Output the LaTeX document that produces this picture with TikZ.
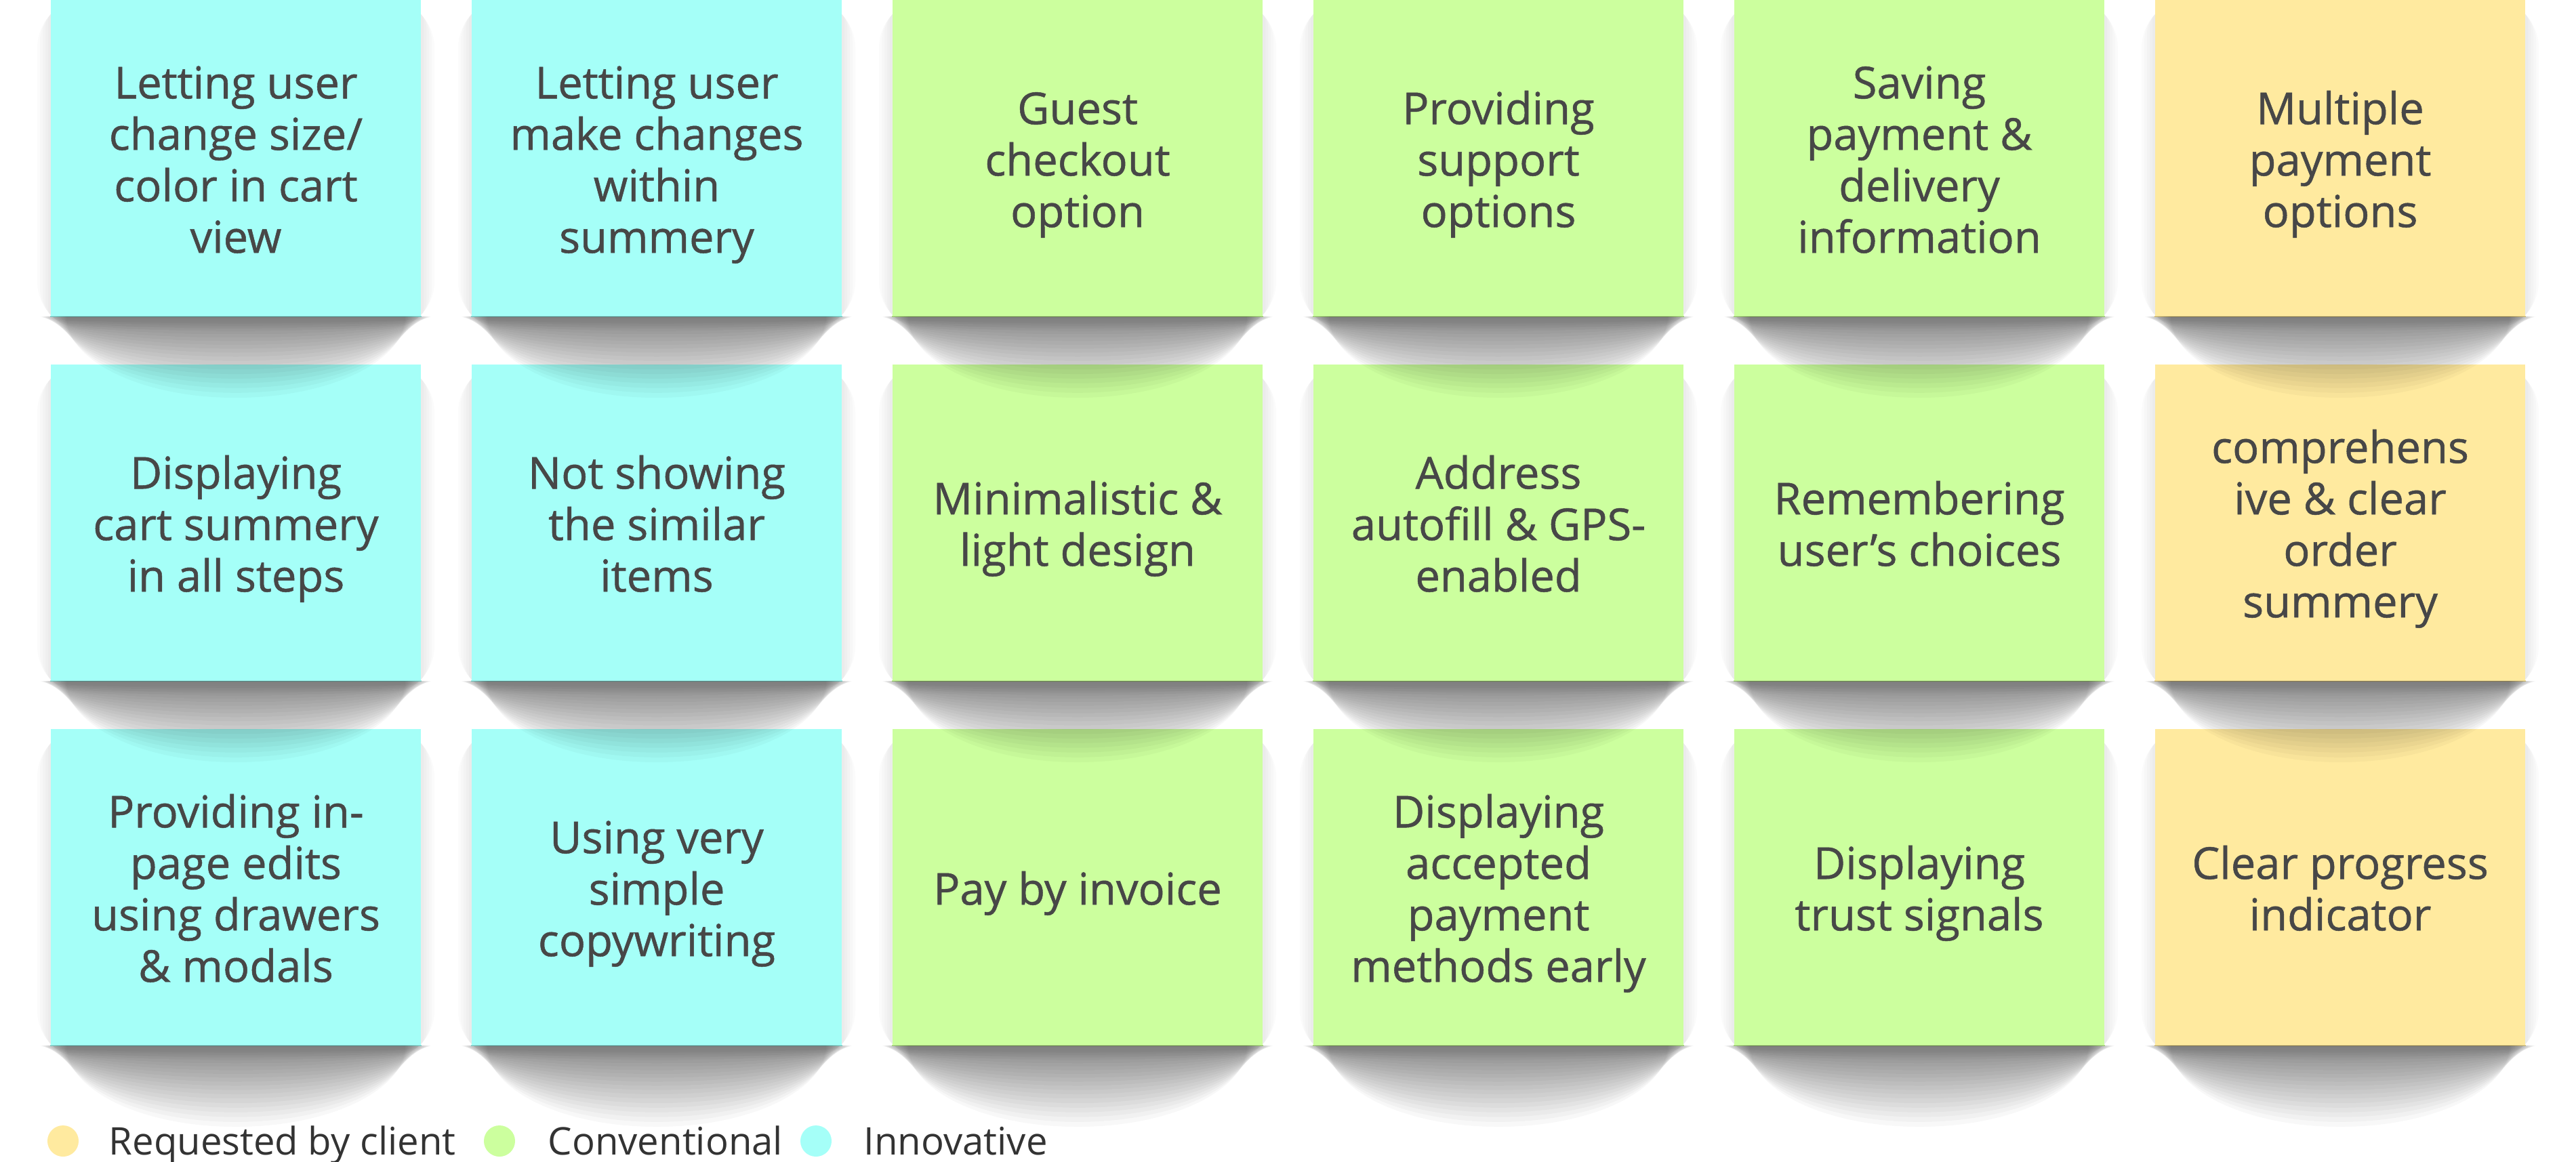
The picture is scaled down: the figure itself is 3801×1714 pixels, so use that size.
\documentclass[tikz,border=0pt]{standalone}
\usepackage{fontspec}
\setmainfont{Open Sans}
\newfontfamily\stickfont{Open Sans}[FakeBold=0.8]
\definecolor{cyanstk}{HTML}{A5FFF8}
\definecolor{greenstk}{HTML}{CCFF9E}
\definecolor{yellowstk}{HTML}{FFEA9F}
\definecolor{txtgray}{HTML}{474747}
\definecolor{legtxt}{HTML}{333333}
\pgfdeclarelayer{bglayer}
\pgfdeclarelayer{halolayer}
\pgfdeclarelayer{shadowlayer}
\pgfsetlayers{bglayer,halolayer,main,shadowlayer}
\tikzset{
  stickbox/.style={rectangle, minimum width=5.46cm, minimum height=4.66cm,
    inner sep=0pt, align=center, text=txtgray,
    font=\stickfont\fontsize{18.5}{21.6}\selectfont},
  sticktext/.style={inner sep=0pt, align=center, text=txtgray,
    font=\stickfont\fontsize{18.5}{21.6}\selectfont},
  legdot/.style={circle, minimum size=0.46cm, inner sep=0pt},
  legtext/.style={anchor=base west, inner sep=0pt, text=legtxt, font=\fontsize{16}{19}\selectfont},
  halofill/.style={fill=black, opacity=0.016, rounded corners=#1},
  shadowfill/.style={fill=black, opacity=0.027},
}
% name, left, top, colour, text
\newcommand\mystick[5]{%
  \begin{pgfonlayer}{halolayer}
    \foreach \d in {4,8,12,16,20}{%
      \fill[halofill=\d] (#2-\d,#3+20-\d) rectangle (#2+546+\d,#3+466+\d);
    }
  \end{pgfonlayer}
  \node[stickbox, fill=#4] (#1) at (#2+273,#3+233) {};
  \node[sticktext] (#1t) at (#2+273,#3+244) {\strut#5\strut};
  \draw[#4!94!black, line width=0.4pt] (#1.south west) -- (#1.south east);
  \begin{pgfonlayer}{shadowlayer}
    \begin{scope}
      \clip (#2-30,#3+467) rectangle (#2+576,#3+660);
      \foreach \i in {1,...,20}{%
        \pgfmathsetmacro\ry{8+112*(\i/20)^1.3}%
        \pgfmathsetmacro\rx{290-2*\i}%
        \fill[shadowfill] (#2+273,#3+467) ellipse [x radius=\rx, y radius=\ry];
      }
    \end{scope}
  \end{pgfonlayer}
}
\begin{document}
\begin{tikzpicture}[x=0.01cm, y=-0.01cm]
\begin{pgfonlayer}{bglayer}
\fill[white] (0,0) rectangle (3801,1714);
\end{pgfonlayer}
\useasboundingbox (0,0) rectangle (3801,1714);
% row 1
\mystick{s11}{75}{0}{cyanstk}{Letting user\\change size/\\color in cart\\view}
\mystick{s12}{696}{0}{cyanstk}{Letting user\\make changes\\within\\summery}
\mystick{s13}{1317}{0}{greenstk}{Guest\\checkout\\option}
\mystick{s14}{1938}{0}{greenstk}{Providing\\support\\options}
\mystick{s15}{2559}{0}{greenstk}{Saving\\payment \&\\delivery\\information}
\mystick{s16}{3180}{0}{yellowstk}{Multiple\\payment\\options}
% row 2
\mystick{s21}{75}{538}{cyanstk}{Displaying\\cart summery\\in all steps}
\mystick{s22}{696}{538}{cyanstk}{Not showing\\the similar\\items}
\mystick{s23}{1317}{538}{greenstk}{Minimalistic \&\\light design}
\mystick{s24}{1938}{538}{greenstk}{Address\\autofill \& GPS-\\enabled}
\mystick{s25}{2559}{538}{greenstk}{Remembering\\user’s choices}
\mystick{s26}{3180}{538}{yellowstk}{comprehens\\ive \& clear\\order\\summery}
% row 3
\mystick{s31}{75}{1076}{cyanstk}{Providing in-\\page edits\\using drawers\\\& modals}
\mystick{s32}{696}{1076}{cyanstk}{Using very\\simple\\copywriting}
\mystick{s33}{1317}{1076}{greenstk}{Pay by invoice}
\mystick{s34}{1938}{1076}{greenstk}{Displaying\\accepted\\payment\\methods early}
\mystick{s35}{2559}{1076}{greenstk}{Displaying\\trust signals}
\mystick{s36}{3180}{1076}{yellowstk}{Clear progress\\indicator}
% legend
\node[legdot, fill=yellowstk] (ly) at (93,1684) {};
\node[legtext] (lyt) at (160,1704) {Requested by client};
\node[legdot, fill=greenstk] (lg) at (737,1684) {};
\node[legtext] (lgt) at (808,1704) {Conventional};
\node[legdot, fill=cyanstk] (lc) at (1204,1684) {};
\node[legtext] (lct) at (1274,1704) {Innovative};
\end{tikzpicture}
\end{document}
